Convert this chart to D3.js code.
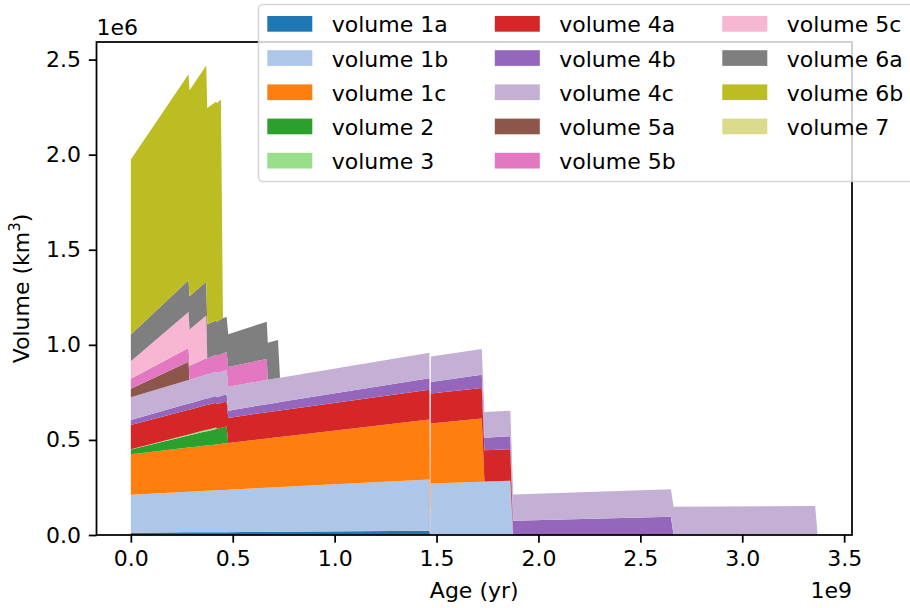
<!DOCTYPE html>
<html>
<head>
<meta charset="utf-8">
<script src="https://cdn.jsdelivr.net/npm/d3@7"></script>
<style>
  body { margin: 0; background: #fff; }
  text { font-family: "DejaVu Sans", sans-serif; }
</style>
</head>
<body>
<svg id="chart" width="910" height="608"></svg>
<script>
// ages in 1e9 yr, volumes in 1e6 km^3
const ages = [0, 0.283, 0.288, 0.370, 0.375, 0.418, 0.422, 0.442, 0.452, 0.470, 0.478, 0.667, 0.672,
              0.722, 0.732, 1.465, 1.4685, 1.472, 1.722, 1.735, 1.862, 1.876, 2.650, 2.663, 3.358, 3.370];

const vol1a = [0.012,0.014,0.014,0.015,0.015,0.015,0.015,0.015,0.015,0.015,0.015,0.017,0.017,0.017,0.017,0.022,0,0,0,0,0,0,0,0,0,0];
const vol1b = [0.200,0.214,0.214,0.218,0.218,0.220,0.220,0.221,0.222,0.222,0.223,0.232,0.232,0.235,0.235,0.270,0,0.271,0.280,0.281,0.285,0,0,0,0,0];
const vol1c = [0.212,0.232,0.232,0.238,0.238,0.241,0.242,0.243,0.244,0.245,0.246,0.259,0.259,0.263,0.263,0.315,0,0.315,0.332,0,0,0,0,0,0,0];
const vol2  = [0.025,0.063,0.064,0.075,0.075,0.081,0.082,0.084,0.086,0.088,0,0,0,0,0,0,0,0,0,0,0,0,0,0,0,0];
const vol3  = [0.002,0.006,0.006,0.007,0.007,0.008,0,0,0,0,0,0,0,0,0,0,0,0,0,0,0,0,0,0,0,0];
const vol4a = [0.128,0.129,0.129,0.130,0.130,0.130,0.130,0.131,0.131,0.131,0.131,0.138,0.138,0.139,0.140,0.157,0,0.158,0.161,0.165,0.166,0,0,0,0,0];
const vol4b = [0.026,0.033,0.033,0.035,0.035,0.036,0.036,0.037,0.037,0.038,0.038,0.042,0.042,0.043,0.044,0.060,0,0.060,0.070,0.066,0.068,0.075,0.096,0,0,0];
const vol4c = [0.120,0.124,0.124,0.126,0.126,0.127,0.127,0.127,0.128,0.128,0.126,0.128,0.128,0.128,0.128,0.134,0,0.135,0.135,0.135,0.135,0.138,0.144,0.149,0.152,0];
const vol5a = [0.044,0.096,0,0,0,0,0,0,0,0,0,0,0,0,0,0,0,0,0,0,0,0,0,0,0,0];
const vol5b = [0.052,0.072,0.074,0.085,0.086,0.090,0.090,0.092,0.093,0.094,0.105,0.110,0,0,0,0,0,0,0,0,0,0,0,0,0,0];
const vol5c = [0.093,0.190,0.190,0.225,0,0,0,0,0,0,0,0,0,0,0,0,0,0,0,0,0,0,0,0,0,0];
const vol6a = [0.140,0.167,0.175,0.178,0.178,0.180,0.180,0.185,0.185,0.186,0.171,0.196,0.195,0.200,0,0,0,0,0,0,0,0,0,0,0,0];
const vol6b = [0.920,1.083,1.084,1.137,1.137,1.150,1.150,1.155,0,0,0,0,0,0,0,0,0,0,0,0,0,0,0,0,0,0];
const vol7  = [0,0,0,0,0,0,0,0,0,0,0,0,0,0,0,0,0,0,0,0,0,0,0,0,0,0];

const names = ["volume 1a", "volume 1b", "volume 1c", "volume 2", "volume 3",
               "volume 4a", "volume 4b", "volume 4c", "volume 5a", "volume 5b",
               "volume 5c", "volume 6a", "volume 6b", "volume 7"];
const series = [vol1a, vol1b, vol1c, vol2, vol3, vol4a, vol4b, vol4c, vol5a, vol5b, vol5c, vol6a, vol6b, vol7];
const colors = ["#1f77b4", "#aec7e8", "#ff7f0e", "#2ca02c", "#98df8a", "#d62728", "#9467bd",
                "#c5b0d5", "#8c564b", "#e377c2", "#f7b6d2", "#7f7f7f", "#bcbd22", "#dbdb8d"];

const xTicks = [0, 0.5, 1.0, 1.5, 2.0, 2.5, 3.0, 3.5];
const yTicks = [0, 0.5, 1.0, 1.5, 2.0, 2.5];

const svg = d3.select("#chart"),
      plot = { left: 96.5, right: 852, top: 42, bottom: 535 },
      fontSize = 22;

// build rows for the stack
const rows = ages.map((a, i) => {
    const r = { age: a };
    names.forEach((n, j) => r[n] = series[j][i]);
    return r;
});
const stacked = d3.stack().keys(names)(rows);

const xMax = d3.max(ages), yMax = d3.max(stacked[stacked.length - 1], d => d[1]);
const xScale = d3.scaleLinear()
    .domain([-0.05 * xMax, xMax * 1.05])
    .range([plot.left, plot.right]);
const yScale = d3.scaleLinear()
    .domain([0, yMax * 1.05])
    .range([plot.bottom, plot.top]);

const area = d3.area()
    .x(d => xScale(d.data.age))
    .y0(d => yScale(d[0]))
    .y1(d => yScale(d[1]));

svg.append("g").selectAll("path")
    .data(stacked)
    .enter()
    .append("path")
    .attr("d", area)
    .attr("fill", (d, i) => colors[i]);

// axes
const xAxis = svg.append("g")
    .attr("transform", `translate(0,${plot.bottom})`)
    .call(d3.axisBottom(xScale).tickValues(xTicks).tickFormat(d3.format(".1f"))
        .tickSize(7.7).tickPadding(7.7));
const yAxis = svg.append("g")
    .attr("transform", `translate(${plot.left},0)`)
    .call(d3.axisLeft(yScale).tickValues(yTicks).tickFormat(d3.format(".1f"))
        .tickSize(7.7).tickPadding(7.7));

[xAxis, yAxis].forEach(g => {
    g.select(".domain").remove();
    g.selectAll(".tick line").attr("stroke", "#000").attr("stroke-width", 1.75);
    g.selectAll(".tick text").attr("fill", "#000").style("font-size", fontSize + "px")
        .style("font-family", "DejaVu Sans");
});

svg.append("rect")
    .attr("x", plot.left).attr("y", plot.top)
    .attr("width", plot.right - plot.left).attr("height", plot.bottom - plot.top)
    .attr("fill", "none").attr("stroke", "#000").attr("stroke-width", 1.75);

// axis labels and offset texts
svg.append("text")
    .attr("x", (plot.left + plot.right) / 2).attr("y", 598)
    .attr("text-anchor", "middle").style("font-size", fontSize + "px")
    .text("Age (yr)");

svg.append("text")
    .attr("x", plot.right).attr("y", 598)
    .attr("text-anchor", "end").style("font-size", fontSize + "px")
    .text("1e9");

svg.append("text")
    .attr("x", plot.left).attr("y", 35)
    .attr("text-anchor", "start").style("font-size", fontSize + "px")
    .text("1e6");

const yLabel = svg.append("text")
    .attr("transform", `translate(29,${(plot.top + plot.bottom) / 2}) rotate(-90)`)
    .attr("text-anchor", "middle").style("font-size", fontSize + "px");
yLabel.append("tspan").text("Volume (km");
yLabel.append("tspan").attr("baseline-shift", "super").style("font-size", "15px").text("3");
yLabel.append("tspan").text(")");

// legend (3 columns, semi-transparent frame, cut at the right edge)
const legend = svg.append("g");
legend.append("rect")
    .attr("x", 258.5).attr("y", 4.5)
    .attr("width", 690).attr("height", 177)
    .attr("rx", 4.4)
    .attr("fill", "#fff").attr("fill-opacity", 0.8)
    .attr("stroke", "#ccc").attr("stroke-opacity", 0.8).attr("stroke-width", 1.5);

const colStep = 227.5, rowStep = 34.2;
names.forEach((n, i) => {
    const col = Math.floor(i / 5), row = i % 5;
    legend.append("rect")
        .attr("x", 267.3 + col * colStep).attr("y", 16 + row * rowStep)
        .attr("width", 45).attr("height", 15.7)
        .attr("fill", colors[i]);
    legend.append("text")
        .attr("x", 331.7 + col * colStep).attr("y", 32.3 + row * rowStep)
        .style("font-size", fontSize + "px")
        .text(n);
});
</script>
</body>
</html>
